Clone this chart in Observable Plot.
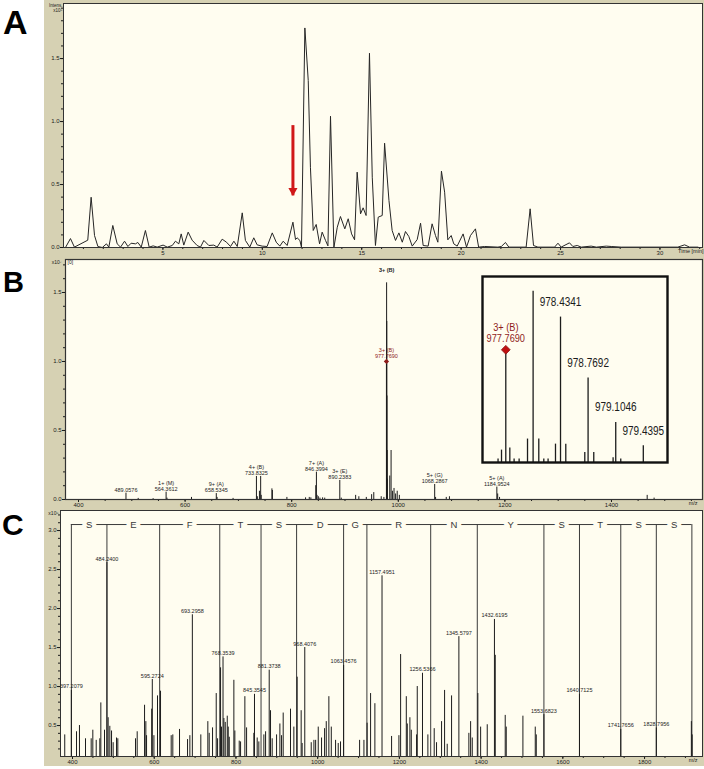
<!DOCTYPE html>
<html><head><meta charset="utf-8">
<script src="https://cdn.jsdelivr.net/npm/d3@7"></script>
<script src="https://cdn.jsdelivr.net/npm/@observablehq/plot@0.6"></script>
<style>
body{margin:0;background:#fff;}
#fig{position:relative;width:704px;height:769px;background:#fff;overflow:hidden;font-family:Arial,"Liberation Sans",sans-serif;}
.letter{position:absolute;font-weight:bold;color:#000;line-height:1;font-family:Arial,"Liberation Sans",sans-serif;}
</style></head><body><div id="fig"></div>
<script>
// ---------------- Panel A : chromatogram ----------------
const chromTime = [0.10,0.35,0.55,1.22,1.39,1.56,1.73,1.95,2.16,2.28,2.48,2.70,2.87,3.07,3.24,3.40,3.62,3.74,3.91,4.12,4.31,4.51,4.71,5.01,5.22,5.47,5.63,5.80,5.92,6.05,6.27,6.47,6.72,6.89,7.06,7.31,7.56,7.73,7.98,8.20,8.40,8.57,8.74,
 8.99,9.15,9.37,9.57,9.74,9.99,10.24,10.50,10.70,10.88,11.05,11.25,11.54,11.67,11.75,11.89,11.97,12.14,12.31,12.42,12.56,12.71,12.88,13.01,13.18,13.30,13.43,13.60,13.77,13.93,14.15,14.32,14.49,14.64,14.77,14.94,15.07,15.22,15.39,15.53,15.69,15.83,16.03,16.15,16.37,16.53,16.70,16.87,17.04,17.20,17.37,17.54,17.79,17.96,18.09,18.34,18.54,18.71,18.83,19.01,19.17,19.33,19.50,19.63,19.80,20.10,20.27,20.47,20.72,
 20.88,21.18,21.85,22.02,22.23,22.40,23.27,23.47,23.64,23.86,24.70,24.87,25.03,25.45,25.62,25.84,26.04,26.54,26.80,27.30,27.55,28.05,30.90,31.24,31.49,31.91];
const chromIntensity = [0.000,0.071,0.003,0.058,0.399,0.095,0.008,0.000,0.029,0.003,0.175,0.029,0.003,0.050,0.008,0.034,0.029,0.040,0.003,0.135,0.003,0.013,0.003,0.019,0.003,0.016,0.050,0.029,0.108,0.019,0.122,0.058,0.016,0.003,0.056,0.016,0.019,0.003,0.066,0.042,0.008,0.050,0.008,
 0.275,0.056,0.003,0.077,0.021,0.011,0.008,0.116,0.042,0.011,0.050,0.016,0.201,0.063,0.077,0.056,0.000,1.743,1.325,0.637,0.135,0.183,0.029,0.122,0.056,0.013,1.042,0.000,0.161,0.246,0.148,0.228,0.108,0.061,0.598,0.267,0.315,0.254,1.542,0.558,0.016,0.241,0.254,0.828,0.373,0.135,0.056,0.116,0.042,0.127,0.087,0.011,0.063,0.193,0.016,0.011,0.188,0.095,0.042,0.606,0.439,0.061,0.095,0.029,0.011,0.108,0.003,0.095,0.148,
 0.003,0.008,0.003,0.008,0.040,0.003,0.003,0.307,0.016,0.003,0.003,0.034,0.003,0.037,0.008,0.016,0.003,0.011,0.003,0.011,0.008,0.003,0.003,0.021,0.003,0.003];
const timeTicks = [5,10,15,20,25,30];
const intensTicksA = [0,0.5,1.0,1.5];
const arrowTime = [11.54], arrowTop = [0.92], arrowTip = [0.41];

// ---------------- Panel B : full MS spectrum ----------------
const specMz = [489.06,512,540,564.36,566,612,658.53,660,690,733.83,735.5,739.5,741.8,742.8,762.9,763.8,791,826,833,836,845.2,846.4,847.6,850,853,858,862,890.24,893,920,926,940,950,954,968,973,
 977.77,978.10,978.43,978.77,979.10,979.44,984,986.5,989,992,995,998,1002,1068.29,1070,1090,1096,1184.95,1186.5,1190,1467,1480];
const specInt = [0.046,0.008,0.006,0.053,0.010,0.015,0.043,0.015,0.008,0.167,0.020,0.060,0.167,0.030,0.077,0.065,0.015,0.012,0.015,0.012,0.100,0.198,0.030,0.020,0.010,0.012,0.010,0.138,0.010,0.030,0.020,0.015,0.035,0.050,0.020,0.015,
 1.000,1.570,1.290,0.750,0.355,0.148,0.170,0.355,0.060,0.080,0.040,0.060,0.030,0.109,0.015,0.015,0.020,0.090,0.040,0.015,0.030,0.010];
const annMz = [489.06,564.36,658.53,733.83,846.40,890.24,1068.29,1184.95];
const annInt = [0.046,0.053,0.043,0.167,0.198,0.138,0.109,0.090];
const annText = ["489.0576","1+ (M)\n564.3612","9+ (A)\n658.5345","4+ (B)\n733.8325","7+ (A)\n846.3994","3+ (E)\n890.2383","5+ (G)\n1068.2867","5+ (A)\n1184.9524"];
const topPeak = [{mz: 978.10, h: 1.57, text: "3+ (B)"}];
const precursor = [{mz: 977.769, h: 1.0, text: "3+ (B)\n977.7690"}];
const mzTicksB = [400,600,800,1000,1200,1400];
const intensTicksB = [0,0.5,1.0,1.5];

// inset (isotope cluster)
const insetMz = [977.675,977.717,977.769,977.818,977.870,977.931,978.033,978.101,978.170,978.231,978.283,978.373,978.434,978.498,978.729,978.769,978.838,979.073,979.105,979.166,979.440];
const insetInt = [0.03,0.11,1.0,0.128,0.03,0.03,0.208,1.52,0.208,0.03,0.03,0.163,1.29,0.163,0.089,0.75,0.089,0.042,0.355,0.03,0.148];
const insetLabelMz = [978.434,978.769,979.105,979.440];
const insetLabelInt = [1.29,0.75,0.355,0.148];
const insetLabelText = ["978.4341","978.7692","979.1046","979.4395"];
const insetPreCharge = "3+ (B)", insetPreMass = "977.7690";

// ---------------- Panel C : MS/MS spectrum ----------------
const fragMz = [381,409.8,417,431.8,445.7,449.7,458,466.8,469.3,478.3,487.2,491.3,495.5,499.5,507.7,510.9,554.2,558.3,576.3,579.5,581.2,593.8,599.2,608,615.4,641.5,645.5,661.9,681.5,687.2,714,731.2,734.5,742.7,751.7,755,762.3,764.7,770.5,773.8,778.7,781.1,783.6,794.9,797.3,808,
 811.3,821.8,826,843.8,852,856,868.3,872.5,884.6,888.7,899.4,907.5,911.6,915.6,933.5,941.7,949.8,959.6,962,984.2,990.8,995,1001.4,1009.5,1016.9,1021,1027.4,1033.3,1043.8,1050.3,1055.9,1102.6,1113.2,1121,1129.5,1140,1180.9,1198.8,1203,1216.9,1219.3,1225.7,1229.1,1242,1243.7,1269.7,1285.2,1290.9,1303.2,1310.6,1317,1327.7,1370,1374.3,1378.3,1392,
 1398.8,1415,1434.6,1459,1461.5,1502.3,1532.5,1535,1914.5,1916.5];
const fragInt = [0.38,0.42,0.50,0.33,0.33,0.44,0.31,0.33,0.79,0.44,0.60,0.49,0.43,0.28,0.34,0.33,0.33,0.42,0.76,0.55,0.37,0.71,0.37,0.88,0.94,0.37,0.38,0.45,0.32,0.37,0.38,0.55,0.40,0.47,0.91,0.33,1.24,0.48,0.59,0.54,0.62,0.48,0.35,1.08,0.43,0.30,
 0.29,0.87,0.47,0.40,0.34,0.29,0.38,0.42,0.69,0.33,0.38,0.52,0.37,0.66,0.71,0.48,1.12,0.69,0.27,0.28,0.31,0.31,0.48,0.34,0.46,0.55,0.87,0.48,0.31,0.27,0.29,0.31,0.31,0.53,0.91,0.78,0.36,0.37,1.41,0.87,0.52,0.60,0.44,0.38,1.00,0.38,0.46,0.28,0.55,0.95,0.26,0.88,0.40,0.55,0.34,0.91,
 0.48,0.51,1.40,0.63,0.48,0.62,0.48,0.38,0.55,0.38];
const fragLabelMz = [397.21,484.24,595.27,693.30,768.35,845.35,881.37,968.41,1063.46,1157.50,1256.54,1345.58,1432.62,1553.68,1640.71,1741.77,1828.80];
const fragLabelInt = [0.95,2.59,1.09,1.92,1.38,0.90,1.21,1.50,1.27,2.42,1.17,1.64,1.86,0.64,0.90,0.45,0.47];
const fragLabelText = ["397.2079","484.2400","595.2724","693.2958","768.3539","845.3545","881.3738","968.4076","1063.4576","1157.4951","1256.5366","1345.5797","1432.6195","1553.6823","1640.7125","1741.7656","1828.7956"];
const ladderMz = [397.21,484.24,613.28,760.35,861.40,948.43,1063.46,1120.48,1276.58,1390.62,1553.68,1640.71,1741.77,1828.80,1915.83];
const residues = ["S","E","F","T","S","D","G","R","N","Y","S","T","S","S"];
const mzTicksC = [400,600,800,1000,1200,1400,1600,1800];
const intensTicksC = [0.5,1.0,1.5,2.0,2.5,3.0];

// ---------------- styles ----------------
const BEIGE = "#d6d1b3", CREAM = "#fffdf0", INK = "#1c1c1c", RED = "#d01818", DARKRED = "#8e1b1b";
const fig = document.getElementById("fig");
function mount(el, left, top) {
  el.style.position = "absolute";
  el.style.left = left + "px";
  el.style.top = top + "px";
  fig.appendChild(el);
}
function letter(txt, left, top, size) {
  const d = document.createElement("div");
  d.className = "letter"; d.textContent = txt; d.style.fontSize = size + "px";
  d.style.left = left + "px"; d.style.top = top + "px";
  fig.appendChild(d);
}
// condense text horizontally (the original uses a narrow face)
function condense(svg, factor) {
  svg.querySelectorAll("text").forEach(t => {
    const parts = t.querySelectorAll("tspan");
    const targets = parts.length ? Array.from(parts) : [t];
    targets.forEach(el => {
      const w = el.getComputedTextLength();
      if (w > 0) {
        el.setAttribute("textLength", (w * factor).toFixed(2));
        el.setAttribute("lengthAdjust", "spacingAndGlyphs");
      }
    });
  });
}
const baseStyle = {background: BEIGE, fontFamily: "Arial, 'Liberation Sans', sans-serif", fontSize: "6px", color: INK, overflow: "visible"};
const blank = () => "";

// ---------------- Panel A ----------------
const chrom = chromTime.map((t, i) => ({t, v: chromIntensity[i]}));
const arrow = arrowTime.map((t, i) => ({t, top: arrowTop[i], tip: arrowTip[i]}));
const plotA = Plot.plot({
  width: 660, height: 256, marginTop: 3, marginLeft: 19, marginRight: 2, marginBottom: 9,
  style: baseStyle,
  x: {domain: [0, 32.14], label: null},
  y: {domain: [0, 1.937], label: null},
  marks: [
    Plot.frame({fill: CREAM, stroke: "none"}),
    Plot.axisX({ticks: d3.range(1, 33, 1), tickSize: 2, tickFormat: blank}),
    Plot.axisX({ticks: timeTicks, tickSize: 3, tickPadding: 0, tickFormat: d3.format("d")}),
    Plot.axisY({ticks: d3.range(0, 1.94, 0.1), tickSize: 2, tickFormat: blank}),
    Plot.axisY({ticks: intensTicksA, tickSize: 3, tickPadding: 1, tickFormat: d3.format(".1f")}),
    Plot.line(chrom, {x: "t", y: "v", stroke: "#262626", strokeWidth: 1}),
    Plot.ruleX(arrow, {x: "t", y1: "tip", y2: "top", stroke: RED, strokeWidth: 3, insetBottom: 6}),
    Plot.dot(arrow, {x: "t", y: "tip", symbol: "triangle", rotate: 180, r: 3.4, fill: RED, stroke: "none", dy: -5.2}),
    Plot.frame({stroke: "#333", strokeWidth: 1}),
    Plot.text(["Time [min]"], {frameAnchor: "bottom-right", lineAnchor: "top", dy: 2, dx: 1, fontSize: 5.5}),
    Plot.text(["Intens.\nx10⁸"], {frameAnchor: "top-left", textAnchor: "end", lineAnchor: "top", dx: -1, dy: 0, fontSize: 4.5, lineHeight: 1.1})
  ]
});
mount(plotA, 44, 0);

// ---------------- Panel B ----------------
const specB = specMz.map((mz, i) => ({mz, h: specInt[i]}));
const annB = annMz.map((mz, i) => ({mz, h: annInt[i], text: annText[i]}));
const plotB = Plot.plot({
  width: 660, height: 251, marginTop: 3, marginLeft: 21, marginRight: 2, marginBottom: 8,
  style: baseStyle,
  x: {domain: [375.6, 1570.8], label: null},
  y: {domain: [0, 1.739], label: null},
  marks: [
    Plot.frame({fill: CREAM, stroke: "none"}),
    Plot.axisX({ticks: d3.range(400, 1571, 50), tickSize: 2, tickFormat: blank}),
    Plot.axisX({ticks: mzTicksB, tickSize: 3, tickPadding: 0, tickFormat: d3.format("d")}),
    Plot.axisY({ticks: d3.range(0, 1.74, 0.1), tickSize: 2, tickFormat: blank}),
    Plot.axisY({ticks: intensTicksB, tickSize: 3, tickPadding: 1, tickFormat: d3.format(".1f")}),
    Plot.ruleX(specB, {x: "mz", y1: 0, y2: "h", stroke: INK, strokeWidth: 1}),
    Plot.text(annB, {x: "mz", y: "h", text: "text", lineAnchor: "bottom", dy: -1.5, fontSize: 5.5, lineHeight: 1.08, fill: INK}),
    Plot.text(topPeak, {x: "mz", y: "h", text: "text", lineAnchor: "bottom", dy: -11, fontSize: 5.5, fill: INK, fontWeight: "bold"}),
    Plot.dot(precursor, {x: "mz", y: "h", symbol: "square", rotate: 45, r: 2.1, fill: DARKRED, stroke: "none"}),
    Plot.text(precursor, {x: "mz", y: "h", text: "text", lineAnchor: "bottom", dy: -3.5, fontSize: 5.5, lineHeight: 1.0, fill: DARKRED}),
    Plot.frame({stroke: "#333", strokeWidth: 1.2}),
    Plot.text(["m/z"], {frameAnchor: "bottom-right", lineAnchor: "top", dy: 2, dx: -5, fontSize: 5.5}),
    Plot.text(["x10⁷"], {frameAnchor: "top-left", textAnchor: "end", lineAnchor: "top", dx: -4, dy: 1, fontSize: 5}),
    Plot.text(["[0]"], {frameAnchor: "top-left", textAnchor: "start", lineAnchor: "top", dx: 2, dy: 1, fontSize: 5})
  ]
});
mount(plotB, 44, 256);

// inset
const insetPeaks = insetMz.map((mz, i) => ({mz, h: insetInt[i]}));
const insetLabels = insetLabelMz.map((mz, i) => ({mz, h: insetLabelInt[i], text: insetLabelText[i]}));
const insetPre = [{mz: insetMz[2], h: insetInt[2], charge: insetPreCharge, mass: insetPreMass}];
const inset = Plot.plot({
  width: 189, height: 190, marginTop: 2, marginLeft: 2, marginRight: 2, marginBottom: 2,
  style: {background: "transparent", fontFamily: "Arial, 'Liberation Sans', sans-serif", fontSize: "12px", color: INK, overflow: "visible"},
  x: {domain: [977.486, 979.734], label: null, axis: null},
  y: {domain: [0, 1.65], label: null, axis: null},
  marks: [
    Plot.frame({fill: CREAM, stroke: "none"}),
    Plot.ruleX(insetPeaks, {x: "mz", y1: 0, y2: "h", stroke: INK, strokeWidth: 1.3}),
    Plot.text(insetLabels, {x: "mz", y: "h", text: "text", dy: -15, fontSize: 12.5, fill: INK}),
    Plot.dot(insetPre, {x: "mz", y: "h", symbol: "square", rotate: 45, r: 3.5, fill: "#c01010", stroke: DARKRED, strokeWidth: 0.8}),
    Plot.text(insetPre, {x: "mz", y: "h", text: "mass", lineAnchor: "middle", dy: -11, fontSize: 11.5, fill: DARKRED}),
    Plot.text(insetPre, {x: "mz", y: "h", text: "charge", lineAnchor: "middle", dy: -22, fontSize: 11.5, fill: DARKRED}),
    Plot.frame({stroke: "#111", strokeWidth: 2.4})
  ]
});
mount(inset, 480, 274);
condense(inset, 0.8);

// ---------------- Panel C ----------------
const C_Y = [0.103, 3.257];
const LADDER_Y = 3.077;
const fragC = fragMz.map((mz, i) => ({mz, h: fragInt[i]}));
const fragLabC = fragLabelMz.map((mz, i) => ({mz, h: fragLabelInt[i], text: fragLabelText[i]}));
const ladder = ladderMz.map(mz => ({mz}));
const ladderLetters = residues.map((r, i) => ({r, mz: (ladderMz[i] + ladderMz[i + 1]) / 2}));
const plotC = Plot.plot({
  width: 660, height: 259, marginTop: 3, marginLeft: 16, marginRight: 2, marginBottom: 10,
  style: baseStyle,
  x: {domain: [370.6, 1941.8], label: null},
  y: {domain: C_Y, label: null},
  marks: [
    Plot.frame({fill: CREAM, stroke: "none"}),
    Plot.axisX({ticks: d3.range(400, 1942, 50), tickSize: 2, tickFormat: blank}),
    Plot.axisX({ticks: mzTicksC, tickSize: 3, tickPadding: 0, tickFormat: d3.format("d")}),
    Plot.axisY({ticks: d3.range(0.2, 3.26, 0.1), tickSize: 2, tickFormat: blank}),
    Plot.axisY({ticks: intensTicksC, tickSize: 3, tickPadding: 1, tickFormat: d3.format(".1f")}),
    Plot.ruleX(ladder, {x: "mz", y1: C_Y[0], y2: LADDER_Y, stroke: "#3a3a3a", strokeWidth: 1}),
    Plot.ruleX(fragC, {x: "mz", y1: C_Y[0], y2: "h", stroke: INK, strokeWidth: 1}),
    Plot.ruleX(fragLabC, {x: "mz", y1: C_Y[0], y2: "h", stroke: INK, strokeWidth: 1}),
    Plot.ruleY([LADDER_Y], {x1: ladderMz[0], x2: ladderMz[ladderMz.length - 1], stroke: "#3a3a3a", strokeWidth: 1}),
    Plot.text(ladderLetters, {x: "mz", y: LADDER_Y, text: "r", fontSize: 9.5, fill: "#3a3a3a", stroke: CREAM, strokeWidth: 9}),
    Plot.text(fragLabC, {x: "mz", y: "h", text: "text", lineAnchor: "bottom", dy: -2, fontSize: 5.5, fill: INK}),
    Plot.frame({stroke: "#333", strokeWidth: 1}),
    Plot.text(["m/z"], {frameAnchor: "bottom-right", lineAnchor: "top", dy: 2, dx: -5, fontSize: 5.5}),
    Plot.text(["x10⁵"], {frameAnchor: "top-left", textAnchor: "end", lineAnchor: "top", dx: -2, dy: 1, fontSize: 5})
  ]
});
mount(plotC, 44, 507);

// panel letters
letter("A", 3, 5, 34);
letter("B", 3, 268, 29);
letter("C", 2, 510, 30);
</script></body></html>
